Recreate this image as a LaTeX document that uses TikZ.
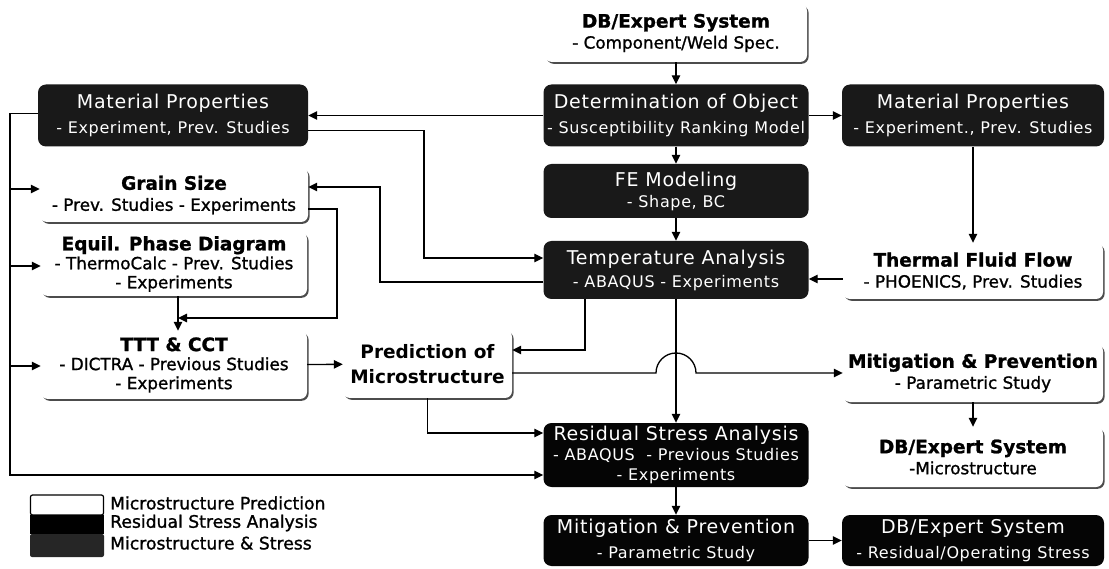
\documentclass[tikz,border=0pt]{standalone}
\usepackage{fontspec}
\setmainfont{DejaVu Sans}
\newfontfamily\darkfont[LetterSpace=4]{DejaVu Sans}
\newfontfamily\lightfont[FakeBold=1.2]{DejaVu Sans}
\usetikzlibrary{arrows.meta,shadows}

% text helpers for the two kinds of boxes
\newcommand{\wtitle}[1]{{\fontsize{18.5}{20}\selectfont\bfseries #1}}
\newcommand{\dtitle}[1]{{\fontsize{19}{25}\selectfont #1}}

\tikzset{
  darkbox/.style={fill=black!90, rounded corners=8pt, text=white, align=center,
    inner sep=0pt, font=\darkfont\fontsize{16}{25}\selectfont},
  solidbox/.style={darkbox, fill=black!98},
  whitebox/.style={fill=white, rounded corners=7pt, align=center, inner sep=0pt,
    font=\lightfont\fontsize{16.8}{21}\selectfont,
    drop shadow={shadow xshift=1.6pt, shadow yshift=-1.8pt, fill=black!70, opacity=1}},
  flow/.style={line width=1.3pt, -{Triangle[length=9pt,width=8.5pt]}},
  legtext/.style={anchor=west, inner sep=0pt, font=\lightfont\fontsize{17.2}{18}\selectfont}
}

\begin{document}
\begin{tikzpicture}[x=1pt,y=-1pt]
\useasboundingbox (0,0) rectangle (1109,569);

% ---------- boxes ----------
\node[whitebox, minimum width=262pt, minimum height=58pt] (db1) at (676,33)
  {\wtitle{DB/Expert System}\\- Component/Weld Spec.};

\node[darkbox, minimum width=270pt, minimum height=62pt] (matL) at (173,115.5)
  {\dtitle{Material Properties}\\- Experiment, Prev. Studies};
\node[darkbox, minimum width=265pt, minimum height=62pt] (det) at (676,115.5)
  {\dtitle{Determination of Object}\\- Susceptibility Ranking Model};
\node[darkbox, minimum width=262pt, minimum height=62pt] (matR) at (973,115.5)
  {\dtitle{Material Properties}\\- Experiment., Prev. Studies};

\node[whitebox, minimum width=268pt, minimum height=54pt] (grain) at (174,195)
  {\wtitle{Grain Size}\\- Prev. Studies - Experiments};
\node[darkbox, minimum width=265pt, minimum height=54pt,
      font=\darkfont\fontsize{16}{21}\selectfont] (fe) at (676,191)
  {\dtitle{FE Modeling}\\- Shape, BC};

\node[whitebox, minimum width=266pt, minimum height=64pt,
      font=\lightfont\fontsize{16.8}{19}\selectfont] (equil) at (174,264)
  {\wtitle{Equil. Phase Diagram}\\- ThermoCalc - Prev. Studies\\- Experiments};
\node[darkbox, minimum width=265pt, minimum height=58pt,
      font=\darkfont\fontsize{16}{23}\selectfont] (temp) at (676,270)
  {\dtitle{Temperature Analysis}\\- ABAQUS - Experiments};
\node[whitebox, minimum width=260pt, minimum height=56pt] (thermal) at (973,271)
  {\wtitle{Thermal Fluid Flow}\\- PHOENICS, Prev. Studies};

\node[whitebox, minimum width=266pt, minimum height=68pt,
      font=\lightfont\fontsize{16.8}{19}\selectfont] (ttt) at (174,365)
  {\wtitle{TTT \& CCT}\\- DICTRA - Previous Studies\\- Experiments};
\node[whitebox, minimum width=169pt, minimum height=68pt,
      font=\fontsize{18.5}{25}\selectfont\bfseries] (pred) at (427.5,364)
  {Prediction of\\Microstructure};
\node[whitebox, minimum width=260pt, minimum height=58pt] (mitig1) at (973,373)
  {\wtitle{Mitigation \& Prevention}\\- Parametric Study};

\node[solidbox, minimum width=265pt, minimum height=64pt,
      font=\darkfont\fontsize{16}{20}\selectfont] (res) at (676,455)
  {\dtitle{Residual Stress Analysis}\\- ABAQUS\ \ - Previous Studies\\- Experiments};
\node[whitebox, minimum width=260pt, minimum height=60pt] (dbm) at (973,457)
  {\wtitle{DB/Expert System}\\-Microstructure};

\node[solidbox, minimum width=265pt, minimum height=51pt] (mitig2) at (676,540.5)
  {\dtitle{Mitigation \& Prevention}\\- Parametric Study};
\node[solidbox, minimum width=262pt, minimum height=51pt] (db2) at (973,540.5)
  {\dtitle{DB/Expert System}\\- Residual/Operating Stress};

% ---------- legend ----------
\node[draw=black, line width=1.2pt, fill=white, rounded corners=2pt,
      minimum width=73pt, minimum height=20pt, inner sep=0pt] (lgw) at (67,505) {};
\node[fill=black, minimum width=74pt, minimum height=19pt, inner sep=0pt] (lgb) at (67,524.5) {};
\node[fill=black!85, rounded corners=2pt, minimum width=74pt, minimum height=23pt,
      inner sep=0pt] (lgd) at (67,545.5) {};
\node[legtext] (lgwt) at (110,503) {Microstructure Prediction};
\node[legtext] (lgbt) at (110,523) {Residual Stress Analysis};
\node[legtext] (lgdt) at (110,543) {Microstructure \& Stress};

% ---------- connectors ----------
\draw[flow] (db1) -- (det);
\draw[flow] (det) -- (matL);
\draw[flow] (det) -- (matR);
\draw[flow] (det) -- (fe);
\draw[flow] (fe) -- (temp);
\draw[flow] (matR) -- (thermal);
\draw[flow] ([yshift=-8pt]thermal.west) -- ([yshift=-8pt]temp.east |- thermal.west);
\draw[flow] ([yshift=-15pt]matL.east) -| (424,258) -- ([yshift=12pt]temp.west);
\draw[flow] ([yshift=-12pt]temp.west) -| (380,187) -- (grain.east |- 0,187);

\coordinate (j) at (178,318);
\draw[flow] ([yshift=-14pt]grain.east) -| (337,318) -- (j);
\draw[flow] (equil.south -| j) -- (ttt.north -| j);
\draw[flow] (ttt) -- (pred);

% left bus from the material data to the stress analysis
\draw[flow] ([yshift=2pt]matL.west) -| (10,475) -- ([yshift=-20pt]res.west);
\coordinate (b1) at (10,189);
\coordinate (b2) at (10,266);
\coordinate (b3) at (10,366);
\draw[flow] (b1) -- (b1 -| grain.west);
\draw[flow] (b2) -- (b2 -| equil.west);
\draw[flow] (b3) -- (b3 -| ttt.west);

\draw[flow] ([xshift=-91pt]temp.south) |- ([yshift=14pt]pred.east);
\draw[flow] ([yshift=-9pt]pred.east) -- (656,373)
  arc[start angle=180, end angle=0, radius=20pt] -- (mitig1.west);
\draw[flow] (temp) -- (res);
\draw[flow] (pred.south) |- ([yshift=22pt]res.west);
\draw[flow] (res) -- (mitig2);
\draw[flow] (mitig2) -- (db2);
\draw[flow] (mitig1) -- (dbm);
\end{tikzpicture}
\end{document}
